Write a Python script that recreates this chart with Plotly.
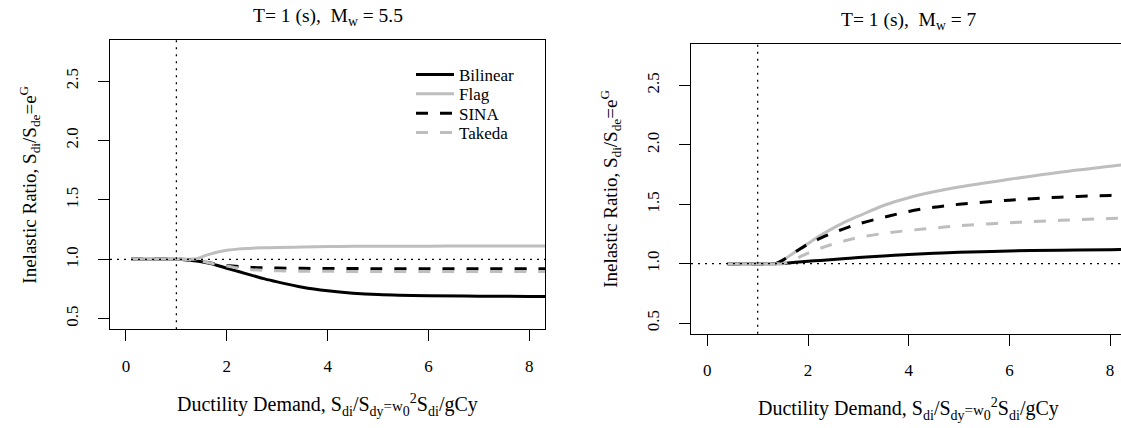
import plotly.graph_objects as go

# ---------------- data ----------------
series_names = ["Bilinear", "Flag", "SINA", "Takeda"]

# Panel 1: T = 1 s, Mw = 5.5
x_mw55 = [0.1, 0.5, 1.0, 1.2, 1.4, 1.6, 1.8, 2.0, 2.25, 2.5, 2.75, 3.0, 3.5, 4.0, 4.5, 5.0, 6.0, 7.0, 8.0, 8.4]
bilinear_mw55 = [1, 1, 1, 0.995, 0.985, 0.97, 0.95, 0.925, 0.895, 0.865, 0.835, 0.81, 0.765, 0.735, 0.715, 0.703, 0.693, 0.69, 0.688, 0.688]
flag_mw55 = [1, 1, 1, 1, 1.005, 1.035, 1.06, 1.076, 1.088, 1.094, 1.097, 1.099, 1.104, 1.107, 1.109, 1.11, 1.111, 1.112, 1.112, 1.112]
sina_mw55 = [1, 1, 1, 0.998, 0.99, 0.975, 0.96, 0.948, 0.938, 0.932, 0.928, 0.926, 0.924, 0.923, 0.922, 0.921, 0.921, 0.92, 0.92, 0.92]
takeda_mw55 = [1, 1, 1, 0.998, 0.99, 0.975, 0.958, 0.944, 0.925, 0.913, 0.906, 0.903, 0.9, 0.899, 0.898, 0.898, 0.897, 0.897, 0.897, 0.897]

# Panel 2: T = 1 s, Mw = 7
x_mw7 = [0.4, 1.0, 1.2, 1.35, 1.5, 1.75, 2.0, 2.25, 2.5, 2.75, 3.0, 3.5, 4.0, 4.5, 5.0, 6.0, 7.0, 8.0, 8.3]
bilinear_mw7 = [1, 1, 1, 1, 1.003, 1.012, 1.02, 1.028, 1.036, 1.044, 1.052, 1.065, 1.078, 1.088, 1.096, 1.107, 1.114, 1.118, 1.119]
flag_mw7 = [1, 1, 1, 1, 1.03, 1.10, 1.17, 1.24, 1.30, 1.355, 1.40, 1.49, 1.555, 1.605, 1.645, 1.71, 1.77, 1.82, 1.835]
sina_mw7 = [1, 1, 1, 1, 1.03, 1.10, 1.165, 1.215, 1.26, 1.30, 1.335, 1.39, 1.44, 1.475, 1.50, 1.535, 1.56, 1.575, 1.58]
takeda_mw7 = [1, 1, 1, 1, 1.0, 1.04, 1.09, 1.13, 1.165, 1.195, 1.22, 1.255, 1.28, 1.30, 1.32, 1.345, 1.365, 1.38, 1.383]

x_ticks = [0, 2, 4, 6, 8]
y_ticks = [0.5, 1.0, 1.5, 2.0, 2.5]
y_ticklabels = ["0.5", "1.0", "1.5", "2.0", "2.5"]

titles = ["T= 1 (s),&nbsp; M<sub>w</sub> = 5.5", "T= 1 (s),&nbsp; M<sub>w</sub> = 7"]
x_title = ("Ductility Demand, S<sub>di</sub>/S<sub>dy</sub>"
           "<span style='font-size:15px'>=w</span><sub>0</sub><sup>2</sup>S<sub>di</sub>/gCy")
y_title = "Inelastic Ratio, S<sub>di</sub>/S<sub>de</sub>=e<sup>G</sup>"

# ---------------- styling ----------------
W, H = 1121, 428
FONT = "Liberation Serif, DejaVu Serif, Times New Roman, serif"
GRAY = "#bebebe"
styles = {
    "Bilinear": dict(color="black", width=3, dash="solid"),
    "Flag": dict(color=GRAY, width=3, dash="solid"),
    "SINA": dict(color="black", width=3, dash="12px,12px"),
    "Takeda": dict(color=GRAY, width=3, dash="12px,12px"),
}
legend_rows_px = [75, 94.3, 113.6, 133]
legend_keys = ["legend", "legend2", "legend3", "legend4"]


def px_x(p):
    return p / W


def px_y(p):
    return 1 - p / H


fig = go.Figure()

panels = [
    (x_mw55, [bilinear_mw55, flag_mw55, sina_mw55, takeda_mw55], "x", "y"),
    (x_mw7, [bilinear_mw7, flag_mw7, sina_mw7, takeda_mw7], "x2", "y2"),
]
for pi, (xs, ys_list, xa, ya) in enumerate(panels):
    for si, (name, ys) in enumerate(zip(series_names, ys_list)):
        fig.add_trace(go.Scatter(
            x=xs, y=ys, mode="lines", name=name, line=styles[name],
            xaxis=xa, yaxis=ya, showlegend=(pi == 0), legend=legend_keys[si],
            line_shape="spline", hoverinfo="skip"))

# panel geometry (pixels)
L1, R1, T1, B1 = 110, 545, 40, 329.3
L2, R2, T2, B2 = 691, 1121, 44, 333.7

axis_common = dict(showline=True, linecolor="black", linewidth=1.3, ticks="outside",
                   ticklen=11, tickwidth=1.3, tickcolor="black", showgrid=False,
                   zeroline=False, tickfont=dict(family=FONT, size=17, color="black"))

legend_layout = {}
for key, row in zip(legend_keys, legend_rows_px):
    legend_layout[key] = dict(x=px_x(411), y=px_y(row), xanchor="left", yanchor="middle",
                              bgcolor="rgba(0,0,0,0)", font=dict(family=FONT, size=17, color="black"),
                              itemwidth=38, borderwidth=0)

fig.update_layout(
    width=W, height=H, margin=dict(l=0, r=0, t=0, b=0),
    paper_bgcolor="white", plot_bgcolor="white",
    font=dict(family=FONT, size=17, color="black"),
    xaxis=dict(domain=[px_x(L1), px_x(R1)], range=[-0.317, 8.31], tickvals=x_ticks,
               mirror=True, anchor="y", ticklabelstandoff=10, **axis_common),
    yaxis=dict(domain=[px_y(B1), px_y(T1)], range=[0.411, 2.846], tickvals=y_ticks,
               ticktext=y_ticklabels, tickangle=-90, mirror=True, anchor="x",
               ticklabelstandoff=13, **axis_common),
    xaxis2=dict(domain=[px_x(L2), 1], range=[-0.324, 8.216], tickvals=x_ticks,
                mirror=True, anchor="y2", ticklabelstandoff=10, **axis_common),
    yaxis2=dict(domain=[px_y(B2), px_y(T2)], range=[0.411, 2.849], tickvals=y_ticks,
                ticktext=y_ticklabels, tickangle=-90, mirror=False, anchor="x2",
                ticklabelstandoff=13, **axis_common),
    showlegend=True,
    **legend_layout,
)

# reference dotted lines
for xa, ya in [("x", "y"), ("x2", "y2")]:
    fig.add_shape(type="line", xref=f"{xa} domain", yref=ya, x0=0, x1=1, y0=1, y1=1,
                  line=dict(color="black", width=1.3, dash="2px,5px"))
    fig.add_shape(type="line", xref=xa, yref=f"{ya} domain", x0=1, x1=1, y0=0, y1=1,
                  line=dict(color="black", width=1.3, dash="2px,5px"))

# titles and axis labels
ann = []
ann.append(dict(text=titles[0], x=px_x((L1 + R1) / 2), y=px_y(17), size=19.5))
ann.append(dict(text=titles[1], x=px_x((L2 + 1126) / 2), y=px_y(21), size=19.5))
ann.append(dict(text=x_title, x=px_x((L1 + R1) / 2), y=px_y(405), size=20))
ann.append(dict(text=x_title, x=px_x((L2 + 1126) / 2), y=px_y(409), size=20))
ann.append(dict(text=y_title, x=px_x(30), y=px_y((T1 + B1) / 2), textangle=-90, size=19))
ann.append(dict(text=y_title, x=px_x(611), y=px_y((T2 + B2) / 2), textangle=-90, size=19))
for a in ann:
    size = a.pop("size")
    fig.add_annotation(xref="paper", yref="paper", showarrow=False, xanchor="center",
                       yanchor="middle", font=dict(family=FONT, size=size, color="black"), **a)

fig.write_html("out.html", config={"displayModeBar": False},
               post_script="document.body.style.margin='0';document.body.style.padding='0';")
